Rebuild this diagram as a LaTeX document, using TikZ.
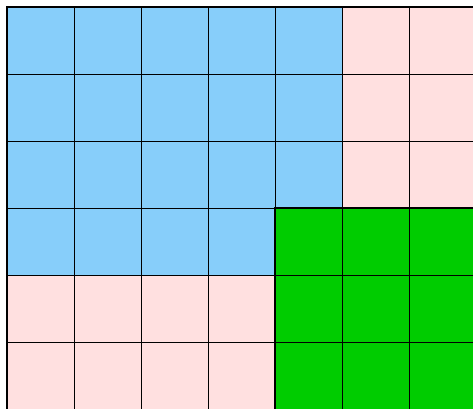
\documentclass[tikz,border=0pt]{standalone}
\definecolor{cblue}{HTML}{87CEFA}
\definecolor{cpink}{HTML}{FFE0E0}
\definecolor{cgreen}{HTML}{00CC00}
\begin{document}
\begin{tikzpicture}[x=1pt,y=-1pt,
  thin grid/.style={black,line width=0.8pt},
  thick border/.style={black,line width=1.6pt}]
\useasboundingbox (0,0) rectangle (473,408);
% fills
\fill[cblue] (7,7) rectangle (342,208);
\fill[cblue] (7,208) rectangle (275,275);
\fill[cpink] (342,7) rectangle (480,208);
\fill[cpink] (7,275) rectangle (275,412);
\fill[cgreen] (275,208) rectangle (480,412);
% grid lines
\foreach \i in {0,...,7} {
  \draw[thin grid] ({7+67*\i},7) -- ({7+67*\i},412);
}
\foreach \j in {0,...,6} {
  \draw[thin grid] (7,{7+67*\j}) -- (480,{7+67*\j});
}
% outer border
\draw[thick border] (7,412) -- (7,7) -- (480,7);
% green border
\draw[thick border] (275,412) -- (275,208) -- (480,208);
\end{tikzpicture}
\end{document}
